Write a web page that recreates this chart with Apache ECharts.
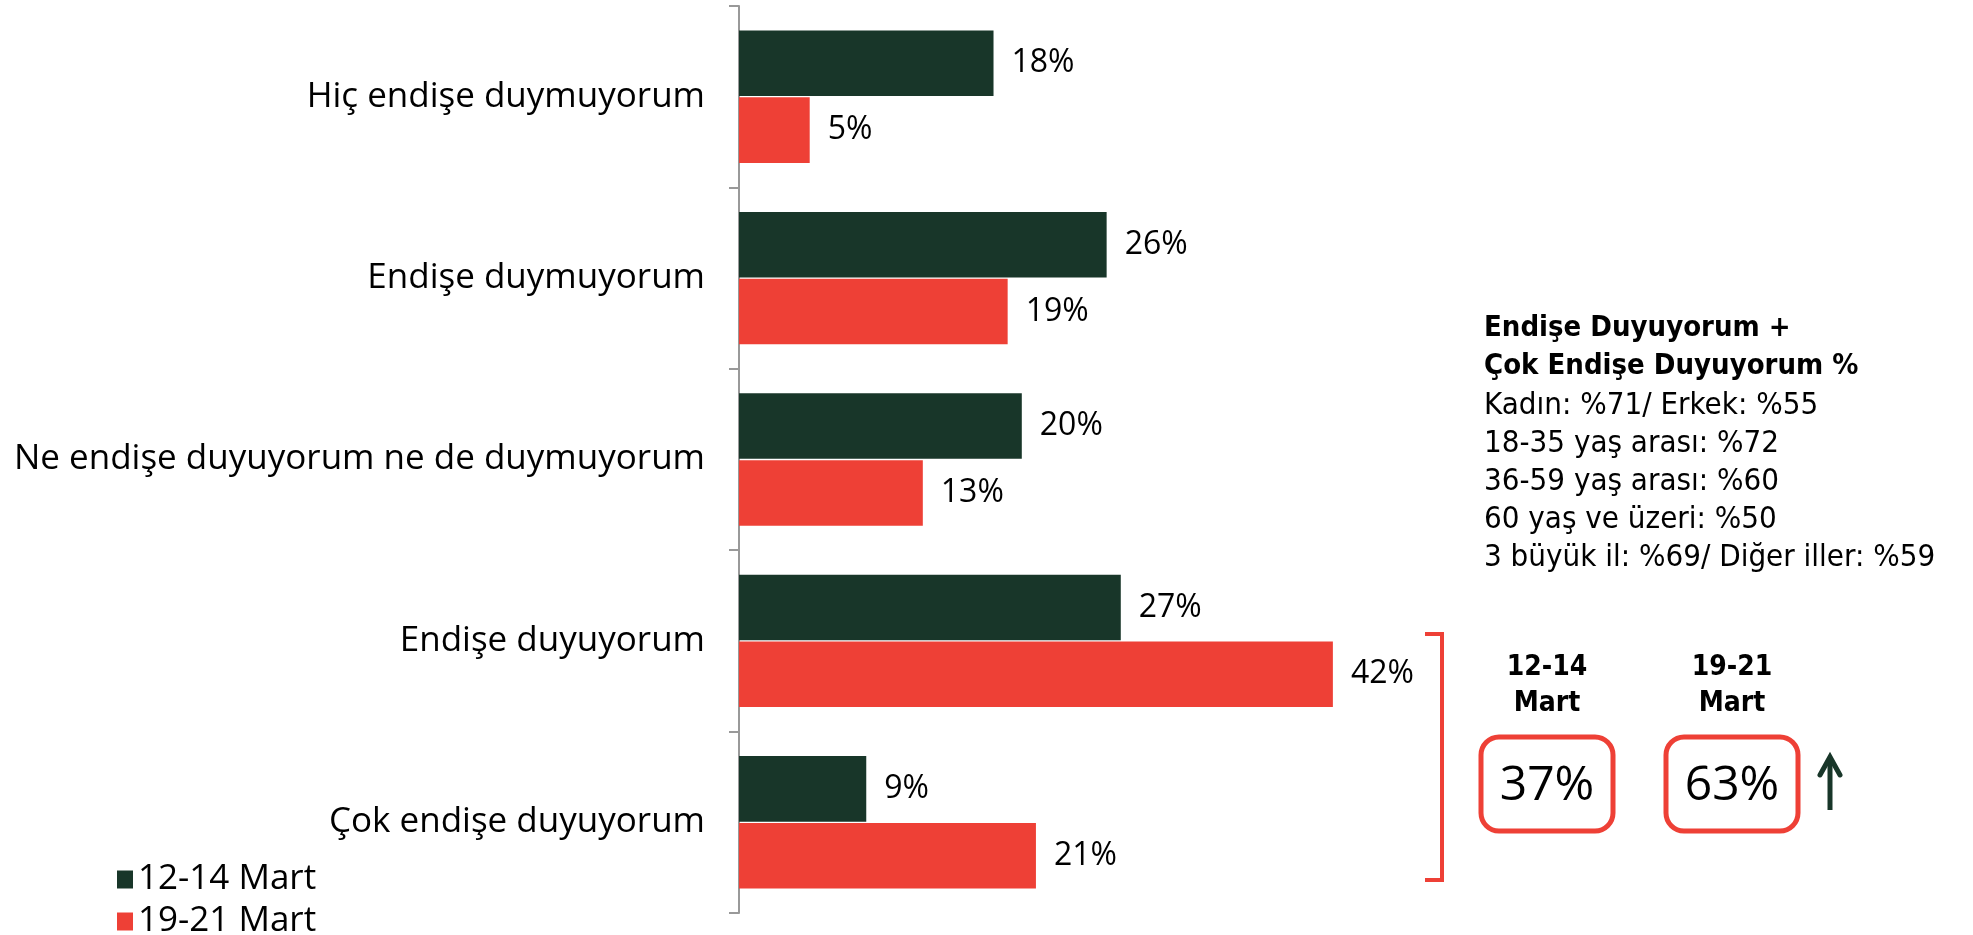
<!DOCTYPE html>
<html><head><meta charset="utf-8">
<script src="https://cdn.jsdelivr.net/npm/echarts@6/dist/echarts.min.js"></script>
<style>html,body{margin:0;padding:0;background:#fff}#c{width:1973px;height:935px}</style>
</head><body><div id="c"></div>
<script>
const categories = ['Hiç endişe duymuyorum','Endişe duymuyorum','Ne endişe duyuyorum ne de duymuyorum','Endişe duyuyorum','Çok endişe duyuyorum'];
const seriesNames = ['12-14 Mart','19-21 Mart'];
const wave1 = [18, 26, 20, 27, 9];
const wave2 = [5, 19, 13, 42, 21];
const noteLines = ['Endişe Duyuyorum +','Çok Endişe Duyuyorum %','Kadın: %71/ Erkek: %55','18-35 yaş arası: %72','36-59 yaş arası: %60','60 yaş ve üzeri: %50','3 büyük il: %69/ Diğer iller: %59'];
const boxHeaders = [['12-14','Mart'],['19-21','Mart']];
const boxValues = ['37%','63%'];

const FONT = "'Open Sans', sans-serif";
const NOTE_FONT = "'DejaVu Sans Condensed', 'Open Sans', sans-serif";
const DARK = '#183629', RED = '#EE4036';

const graphics = [];
noteLines.forEach((t,i)=>{
  graphics.push({type:'text', left:1484, top:314 + i*38, style:{text:t, font:(i<2?'bold 29px ':'31px ')+NOTE_FONT, fill:'#000'}});
});
graphics.push({type:'polyline', shape:{points:[[1425,634],[1442,634],[1442,880],[1425,880]]}, style:{stroke:RED, lineWidth:4, fill:null}});
const centers=[1547,1732];
boxHeaders.forEach((h,i)=>{
  graphics.push({type:'text', x:centers[i], y:668, style:{text:h[0], font:'bold 28px '+NOTE_FONT, fill:'#000', align:'center', verticalAlign:'middle'}});
  graphics.push({type:'text', x:centers[i], y:704, style:{text:h[1], font:'bold 28px '+NOTE_FONT, fill:'#000', align:'center', verticalAlign:'middle'}});
  graphics.push({type:'rect', shape:{x:centers[i]-66, y:737, width:132, height:94, r:18}, style:{stroke:RED, lineWidth:5, fill:'#fff'}});
  graphics.push({type:'text', x:centers[i], y:786, style:{text:boxValues[i], font:'48px '+FONT, fill:'#000', align:'center', verticalAlign:'middle'}});
});
graphics.push({type:'line', shape:{x1:1830,y1:810,x2:1830,y2:760}, style:{stroke:DARK, lineWidth:5}});
graphics.push({type:'polyline', shape:{points:[[1820,775],[1830,757],[1840,775]]}, style:{stroke:DARK, lineWidth:5, fill:null, lineCap:'round'}});

const legendBase = {orient:'vertical', left:112, itemWidth:16, itemHeight:18, itemGap:10,
    textStyle:{fontSize:35, fontFamily:FONT, color:'#000'}, icon:'rect'};

const chart = echarts.init(document.getElementById('c'));
chart.setOption({
  animation:false,
  grid:{left:739, top:6, bottom:22, right:527, containLabel:false},
  legend:[Object.assign({}, legendBase, {top:857, data:[seriesNames[0]]}),
          Object.assign({}, legendBase, {top:899, data:[seriesNames[1]]})],
  xAxis:{type:'value', min:0, max:50, show:false},
  yAxis:{type:'category', data:categories, inverse:true,
    axisLine:{show:true, lineStyle:{color:'#999', width:2}},
    axisTick:{show:true, length:10, alignWithLabel:false, lineStyle:{color:'#999', width:2}},
    axisLabel:{fontSize:35, fontFamily:FONT, color:'#000', margin:34}},
  series:[
    {name:seriesNames[0], type:'bar', data:wave1, itemStyle:{color:DARK}, barGap:'2%', barCategoryGap:'27%',
     label:{show:true, position:'right', distance:18, formatter:'{c}%', fontSize:32, fontFamily:FONT, color:'#000'}},
    {name:seriesNames[1], type:'bar', data:wave2, itemStyle:{color:RED},
     label:{show:true, position:'right', distance:18, formatter:'{c}%', fontSize:32, fontFamily:FONT, color:'#000'}}
  ],
  graphic:graphics
});
</script></body></html>
